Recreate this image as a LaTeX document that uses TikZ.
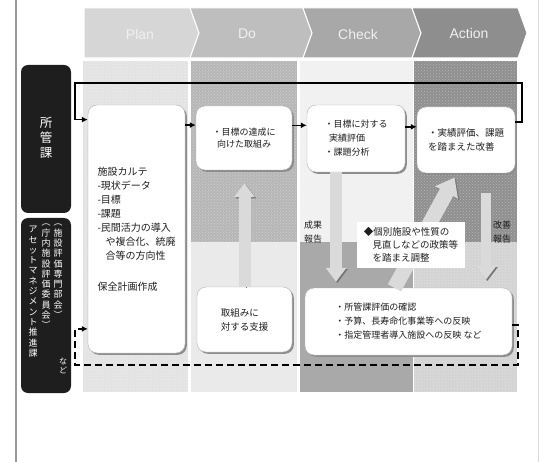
\documentclass[tikz,border=0pt]{standalone}
\usepackage{fontspec}
\usepackage{xcolor}
\setmainfont{Noto Sans CJK JP}
\newfontfamily\hdrfont{Liberation Sans}
\usetikzlibrary{arrows.meta,shadows,patterns}

\definecolor{hdrplan}{HTML}{D6D6D6}
\definecolor{hdrdo}{HTML}{BEBEBE}
\definecolor{hdrcheck}{HTML}{A8A8A8}
\definecolor{hdraction}{HTML}{8E8E8E}
\definecolor{colplan}{HTML}{E3E3E3}
\definecolor{coldotop}{HTML}{B6B6B6}
\definecolor{coldobot}{HTML}{EAEAEA}
\definecolor{colchktop}{HTML}{F1F1F1}
\definecolor{colchkbot}{HTML}{A9A9A9}
\definecolor{colacttop}{HTML}{8F8F8F}
\definecolor{colactbot}{HTML}{D3D3D3}
\definecolor{inkdark}{HTML}{1E1E1E}
\definecolor{arrowfill}{HTML}{DADADA}

\newcommand\tate[1]{\tatestep#1\relax}
\def\tatestep#1{\ifx\relax#1\else#1\par\expandafter\tatestep\fi}

\begin{document}
\begin{tikzpicture}[x=1pt,y=-1pt,
  hdr/.style={draw=white,line width=1pt},
  hdrlabel/.style={text=white!94!black,font=\hdrfont\fontsize{14}{16}\selectfont},
  texture/.style={pattern=crosshatch dots,pattern color=white,opacity=0.35},
  blackbox/.style={fill=inkdark,rounded corners=7pt,minimum width=50pt},
  tatetext/.style={text=white,align=center,inner sep=0pt,text width=#1},
  box/.style={draw=black!30,fill=white,rounded corners=9pt,text=inkdark,align=left,inner sep=0pt,
    drop shadow={shadow xshift=1.8pt,shadow yshift=-1.8pt,fill=black!45,opacity=1}},
  lbl/.style={text=inkdark,align=center,inner sep=0pt,font=\fontsize{9}{14}\selectfont},
  flow/.style={-{Latex[length=6pt,width=6pt]},line width=1.4pt,black},
  loopline/.style={line width=1.6pt,black,-{Latex[length=6pt,width=6pt]}},
  dashloop/.style={loopline,dash pattern=on 7pt off 4pt},
  bigarrow/.style={line width=12pt,draw=arrowfill,-{Triangle[width=20pt,length=14pt]},
    preaction={draw=black!55,transform canvas={xshift=1.3pt,yshift=-1.3pt}}}]
\useasboundingbox(0,0) rectangle (540,462);
\draw[black!40,line width=1.5pt](16,0) -- (16,462);
\draw[black!15,line width=1pt](538.5,0) -- (538.5,462);

\path[hdr,fill=hdrplan](84,8) -- (190,8) -- (199,33) -- (190,58) -- (84,58) -- cycle;
\path[hdr,fill=hdrdo](190,8) -- (303,8) -- (312,33) -- (303,58) -- (190,58) -- (199,33) -- cycle;
\path[hdr,fill=hdrcheck](303,8) -- (412,8) -- (421,33) -- (412,58) -- (303,58) -- (312,33) -- cycle;
\path[hdr,fill=hdraction](412,8) -- (518,8) -- (527,33) -- (518,58) -- (412,58) -- (421,33) -- cycle;
\node[hdrlabel](plantxt) at (140,34){Plan};
\node[hdrlabel](dotxt) at (247,34){Do};
\node[hdrlabel](checktxt) at (358,34){Check};
\node[hdrlabel](actiontxt) at (469,33){Action};

\fill[colplan](83,61) rectangle (188,392);
\fill[coldotop](191,61) rectangle (297,242);
\fill[coldobot](191,242) rectangle (297,392);
\fill[colchktop](300,61) rectangle (413,242);
\fill[colchkbot](300,242) rectangle (413,392);
\fill[colacttop](414,61) rectangle (517,242);
\fill[colactbot](414,242) rectangle (517,392);
\fill[texture](83,61) rectangle (188,392);
\fill[texture](191,61) rectangle (297,242);
\fill[texture](414,61) rectangle (517,392);

\node[blackbox,minimum height=148pt](kanka) at (46,139){};
\node[blackbox,minimum height=175pt](suishin) at (46,305.5){};
\node[tatetext=13pt,font=\fontsize{12.5}{15}\selectfont](kantxt) at (46,138){\tate{所管課}};
\node[tatetext=10pt,anchor=north,font=\fontsize{9}{10.3}\selectfont](amtxt) at (33,226){\tate{アセットマネジメント推進課}};
\node[tatetext=10pt,anchor=north,font=\fontsize{9}{10.3}\selectfont](hyokatxt) at (46,224){\tate{︵庁内施設評価委員会︶}};
\node[tatetext=10pt,anchor=north,font=\fontsize{9}{10.3}\selectfont](bukaitxt) at (58,224){\tate{︵施設評価専門部会︶}};
\node[tatetext=10pt,font=\fontsize{8}{9.5}\selectfont](nadotxt) at (63,366){\tate{など}};

\node[box,minimum width=97pt,minimum height=248pt,font=\fontsize{10}{14}\selectfont](plan) at (136.5,229){施設カルテ\\-現状データ\\-目標\\-課題\\-民間活力の導入\\\hspace*{0.8em}や複合化、統廃\\\hspace*{0.8em}合等の方向性\\[17pt]保全計画作成};

\coordinate(looptl) at (75,83);
\coordinate(loopbl) at (75,365);

\node[box,minimum width=96pt,minimum height=64pt,font=\fontsize{9}{12}\selectfont](dotop) at (244,138){・目標の達成に\\\hspace*{0.5em}向けた取組み};
\node[box,minimum width=98pt,minimum height=67pt,font=\fontsize{9}{14}\selectfont](chk) at (356,138.5){・目標に対する\\\hspace*{0.5em}実績評価\\・課題分析};
\node[box,minimum width=98pt,minimum height=66pt,font=\fontsize{9.5}{14}\selectfont](act) at (466,140){・実績評価、課題\\を踏まえた改善};
\node[box,minimum width=95pt,minimum height=65pt,font=\fontsize{9.5}{14}\selectfont](dobot) at (244.5,319.5){取組みに\\対する支援};
\node[box,minimum width=207pt,minimum height=67pt,font=\fontsize{9}{14}\selectfont](big) at (408.5,321.5){・所管課評価の確認\\・予算、長寿命化事業等への反映\\・指定管理者導入施設への反映\ など};

\draw[bigarrow,shorten >=13pt](dobot.north) -- (dobot.north |- dotop.south);
\draw[bigarrow,shorten >=6pt]([xshift=-20pt]chk.south) -- ([xshift=-20pt]chk.south |- big.north);
\draw[bigarrow,line width=10pt,shorten <=20pt,shorten >=8pt]([xshift=20pt]act.south) -- ([xshift=20pt]act.south |- big.north);
\draw[bigarrow,line width=15pt,-{Triangle[width=25pt,length=17pt]},shorten >=5pt]([xshift=-14pt]big.north) -- ([xshift=-9pt]act.south);

\node[fill=white,inner sep=3pt,align=left,text=inkdark,font=\fontsize{9.5}{13}\selectfont,minimum width=108pt,minimum height=46pt](note) at (411,245){◆個別施設や性質の\\\hspace*{0.9em}見直しなどの政策等\\\hspace*{0.9em}を踏まえ調整};
\node[lbl](resrep) at (313,232){成果\\報告};
\node[lbl](imprep) at (502,232){改善\\報告};

\draw[flow](plan.east |- dotop.165) -- (dotop.165);
\draw[flow](dotop.east |- chk.165) -- (chk.165);
\draw[flow](chk.east |- act.165) -- (act.165);
\draw[loopline](act.20) -- ++(7,0) |- (looptl) |- (plan.114);
\draw[dashloop](big.-2) -- ++(6,0) |- (loopbl) |- (plan.244);
\end{tikzpicture}
\end{document}
